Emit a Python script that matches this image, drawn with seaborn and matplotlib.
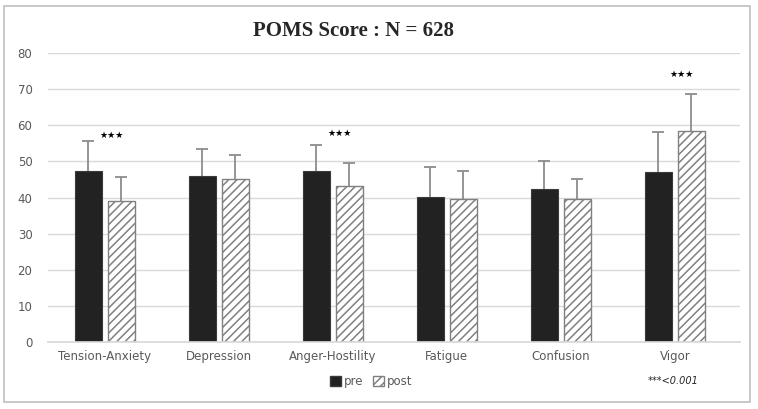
import numpy as np
import pandas as pd
import seaborn as sns
import matplotlib.pyplot as plt
from matplotlib.patches import Rectangle, Patch

# values
categories = ["Tension-Anxiety", "Depression", "Anger-Hostility", "Fatigue", "Confusion", "Vigor"]
pre_mean = [47.4, 45.9, 47.3, 40.2, 42.5, 47.0]
pre_sd = [8.2, 7.6, 7.2, 8.4, 7.7, 11.2]
post_mean = [39.0, 45.0, 43.2, 39.5, 39.7, 58.3]
post_sd = [6.6, 6.9, 6.5, 7.9, 5.4, 10.3]
star_cats = ["Tension-Anxiety", "Anger-Hostility", "Vigor"]
star_y = [57.2, 57.8, 74.0]

sns.set_theme(style="white")
plt.rcParams['font.family'] = ['DejaVu Sans']
plt.rcParams['hatch.linewidth'] = 1.1

df = pd.DataFrame({
    "cat": categories * 2,
    "time": ["pre"] * 6 + ["post"] * 6,
    "score": pre_mean + post_mean,
})

fig = plt.figure(figsize=(7.58, 4.09), dpi=100)
ax = fig.add_axes([0.063, 0.164, 0.913, 0.706])

ax = sns.barplot(data=df, x="cat", y="score", hue="time", order=categories,
                 hue_order=["pre", "post"], palette={"pre": "#222222", "post": "white"},
                 errorbar=None, width=0.58, gap=0.18, ax=ax, legend=False)

bars = [p for p in ax.patches if isinstance(p, Rectangle)]
pre_bars, post_bars = bars[:6], bars[6:12]
for b in pre_bars:
    b.set_edgecolor("#3a3a3a")
    b.set_linewidth(0.8)
for b in post_bars:
    b.set_hatch("////")
    b.set_edgecolor("#808080")
    b.set_linewidth(1.0)

# upper error bars only
for group, means, sds in [(pre_bars, pre_mean, pre_sd), (post_bars, post_mean, post_sd)]:
    xs = [b.get_x() + b.get_width() / 2 for b in group]
    eb = ax.errorbar(xs, means, yerr=[np.zeros(len(sds)), sds], fmt="none",
                     ecolor="#8c8c8c", elinewidth=1.3, capsize=4, capthick=1.3, zorder=3)
    eb[1][0].set_visible(False)

# significance stars
for c, y in zip(star_cats, star_y):
    ax.text(categories.index(c) + 0.06, y, "★★★", ha="center", va="center",
            fontsize=6.5, color="black")

ax.set_xlim(-0.5, 5.57)
ax.set_ylim(0, 80)
ax.set_yticks(range(0, 81, 10))
ax.grid(axis="y", color="#d9d9d9", linewidth=1)
ax.set_axisbelow(True)
for s in ["top", "right", "left"]:
    ax.spines[s].set_visible(False)
ax.spines["bottom"].set_color("#d9d9d9")
ax.tick_params(axis="both", length=0, labelsize=8.5, colors="#595959", pad=6)
ax.tick_params(axis="y", pad=11)
ax.set_xlabel("")
ax.set_ylabel("")

fig.text(0.467, 0.925, "POMS Score : N = 628", ha="center", va="center",
         fontsize=15, fontweight="bold", family=["Liberation Serif", "DejaVu Serif"])

handles = [Patch(facecolor="#222222", edgecolor="#3a3a3a"),
           Patch(facecolor="white", edgecolor="#808080", hatch="////")]
fig.legend(handles, ["pre", "post"], loc="center", bbox_to_anchor=(0.49, 0.068), ncol=2,
           frameon=False, fontsize=8.5, labelcolor="#595959", handlelength=0.9,
           handleheight=0.9, handletextpad=0.3, columnspacing=0.8)

fig.text(0.855, 0.068, "***<0.001", ha="left", va="center", fontsize=7, style="italic")

# outer frame
fig.patches.append(Rectangle((0.005, 0.018), 0.985, 0.968, transform=fig.transFigure,
                             fill=False, edgecolor="#bfbfbf", linewidth=1.2))

fig.savefig("out.png", dpi=100)
